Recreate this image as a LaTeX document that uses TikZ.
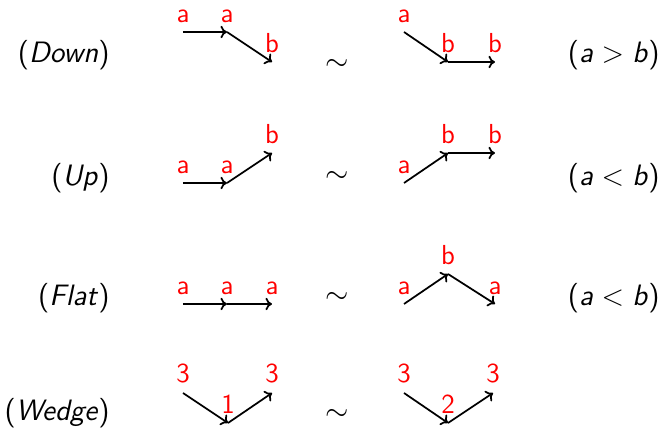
\documentclass[tikz,border=0pt]{standalone}
\usetikzlibrary{arrows.meta}

\begin{document}
\begin{tikzpicture}[x=0.4pt, y=-0.4pt,
  every node/.style = {font=\sffamily\fontsize{11.8}{14}\selectfont},
  lbl/.style        = {text=red, inner sep=3.6pt, font=\sffamily\fontsize{11}{13}\selectfont},
  vtx/.style        = {coordinate, label={[lbl]above:#1}},
  rowlbl/.style     = {anchor=east, inner sep=0pt},
  cond/.style       = {anchor=east, inner sep=0pt},
  mv/.style         = {line width=0.7pt, -{To[length=2.6pt,width=5pt]}}
]
\useasboundingbox (0,0) rectangle (663,432);

% Row labels
\node[rowlbl] (dnlbl) at (110,55)  {(\textit{Down})};
\node[rowlbl] (uplbl) at (110,178) {(\textit{Up})};
\node[rowlbl] (fllbl) at (110,298) {(\textit{Flat})};
\node[rowlbl] (wglbl) at (110,413) {(\textit{Wedge})};

% Down
\node[vtx=a] (dnl1) at (183,32) {};
\node[vtx=a] (dnl2) at (227,32) {};
\node[vtx=b] (dnl3) at (272,62) {};
\draw[mv] (dnl1) -- (dnl2);
\draw[mv] (dnl2) -- (dnl3);
\node (dnsim) at (337,65) {$\sim$};
\node[vtx=a] (dnr1) at (404,32) {};
\node[vtx=b] (dnr2) at (448,62) {};
\node[vtx=b] (dnr3) at (495,62) {};
\draw[mv] (dnr1) -- (dnr2);
\draw[mv] (dnr2) -- (dnr3);
\node[cond] (dncond) at (660,55) {(\textit{a}\;>\;\textit{b})};

% Up
\node[vtx=a] (upl1) at (183,183) {};
\node[vtx=a] (upl2) at (227,183) {};
\node[vtx=b] (upl3) at (272,153) {};
\draw[mv] (upl1) -- (upl2);
\draw[mv] (upl2) -- (upl3);
\node (upsim) at (337,177) {$\sim$};
\node[vtx=a] (upr1) at (404,183) {};
\node[vtx=b] (upr2) at (448,153) {};
\node[vtx=b] (upr3) at (495,153) {};
\draw[mv] (upr1) -- (upr2);
\draw[mv] (upr2) -- (upr3);
\node[cond] (upcond) at (660,178) {(\textit{a}\;<\;\textit{b})};

% Flat
\node[vtx=a] (fll1) at (183,304) {};
\node[vtx=a] (fll2) at (227,304) {};
\node[vtx=a] (fll3) at (272,304) {};
\draw[mv] (fll1) -- (fll2);
\draw[mv] (fll2) -- (fll3);
\node (flsim) at (337,298) {$\sim$};
\node[vtx=a] (flr1) at (404,304) {};
\node[vtx=b] (flr2) at (448,274) {};
\node[vtx=a] (flr3) at (495,304) {};
\draw[mv] (flr1) -- (flr2);
\draw[mv] (flr2) -- (flr3);
\node[cond] (flcond) at (660,298) {(\textit{a}\;<\;\textit{b})};

% Wedge
\node[vtx=3] (wgl1) at (183,393) {};
\node[vtx=1] (wgl2) at (228,423) {};
\node[vtx=3] (wgl3) at (272,393) {};
\draw[mv] (wgl1) -- (wgl2);
\draw[mv] (wgl2) -- (wgl3);
\node (wgsim) at (337,415) {$\sim$};
\node[vtx=3] (wgr1) at (404,393) {};
\node[vtx=2] (wgr2) at (448,423) {};
\node[vtx=3] (wgr3) at (493,393) {};
\draw[mv] (wgr1) -- (wgr2);
\draw[mv] (wgr2) -- (wgr3);
\end{tikzpicture}
\end{document}
